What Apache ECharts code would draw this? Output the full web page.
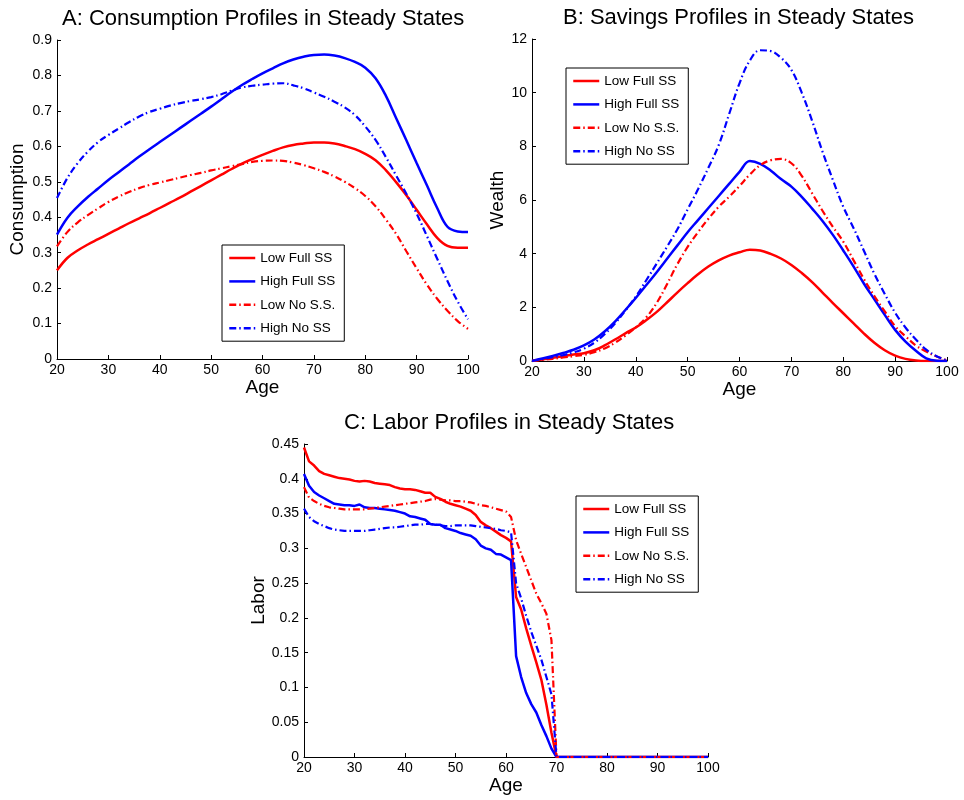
<!DOCTYPE html>
<html>
<head>
<meta charset="utf-8">
<script src="https://cdn.jsdelivr.net/npm/echarts@6/dist/echarts.min.js"></script>
<style>
html, body { margin: 0; padding: 0; background: #fff; }
#el { width: 964px; height: 800px; }
</style>
</head>
<body>
<div id="el"></div>
<script>
// series names / legend
const names = ['Low Full SS', 'High Full SS', 'Low No S.S.', 'High No SS']

// ages for panels A and B (every 2 years)
const ages = [20, 22, 24, 26, 28, 30, 32, 34, 36, 38, 40, 42, 44, 46, 48, 50, 52, 54, 56, 58, 60,
  62, 64, 66, 68, 70, 72, 74, 76, 78, 80, 82, 84, 86, 88, 90, 92, 94, 96, 98, 100]

// A: consumption
const consLowFull = [0.250, 0.285, 0.306, 0.323, 0.338, 0.353, 0.368, 0.383, 0.397, 0.411, 0.426, 0.441, 0.456, 0.472, 0.488, 0.504, 0.520, 0.536, 0.551, 0.564, 0.576,
  0.587, 0.597, 0.604, 0.608, 0.611, 0.611, 0.608, 0.601, 0.592, 0.579, 0.561, 0.533, 0.499, 0.462, 0.421, 0.380, 0.342, 0.319, 0.314, 0.314]
const consHighFull = [0.351, 0.398, 0.430, 0.457, 0.481, 0.505, 0.527, 0.549, 0.571, 0.592, 0.612, 0.632, 0.652, 0.672, 0.692, 0.712, 0.733, 0.754, 0.773, 0.790, 0.806,
  0.820, 0.834, 0.845, 0.853, 0.858, 0.859, 0.856, 0.849, 0.838, 0.822, 0.792, 0.743, 0.680, 0.617, 0.553, 0.490, 0.426, 0.373, 0.360, 0.358]
const consLowNo = [0.318, 0.358, 0.385, 0.406, 0.425, 0.443, 0.458, 0.471, 0.482, 0.491, 0.498, 0.505, 0.512, 0.519, 0.525, 0.532, 0.538, 0.544, 0.550, 0.556, 0.559,
  0.560, 0.559, 0.554, 0.547, 0.538, 0.528, 0.515, 0.500, 0.482, 0.460, 0.431, 0.394, 0.353, 0.304, 0.256, 0.210, 0.170, 0.136, 0.107, 0.085]
const consHighNo = [0.454, 0.510, 0.552, 0.585, 0.612, 0.632, 0.650, 0.668, 0.684, 0.697, 0.706, 0.715, 0.722, 0.728, 0.733, 0.739, 0.747, 0.757, 0.766, 0.771, 0.774,
  0.777, 0.778, 0.772, 0.764, 0.752, 0.740, 0.726, 0.710, 0.688, 0.656, 0.618, 0.570, 0.518, 0.466, 0.410, 0.347, 0.283, 0.220, 0.162, 0.112]

// B: wealth
const wealthLowFull = [0, 0.06, 0.12, 0.18, 0.24, 0.29, 0.40, 0.58, 0.80, 1.03, 1.25, 1.52, 1.82, 2.18, 2.55, 2.90, 3.23, 3.52, 3.75, 3.93, 4.05,
  4.15, 4.12, 3.99, 3.82, 3.58, 3.28, 2.94, 2.55, 2.16, 1.78, 1.40, 1.02, 0.68, 0.40, 0.20, 0.08, 0.02, 0, 0, 0]
const wealthHighFull = [0, 0.09, 0.19, 0.30, 0.42, 0.58, 0.80, 1.10, 1.47, 1.90, 2.35, 2.82, 3.30, 3.80, 4.30, 4.80, 5.25, 5.70, 6.15, 6.60, 7.05,
  7.45, 7.35, 7.10, 6.78, 6.50, 6.12, 5.68, 5.22, 4.70, 4.12, 3.52, 2.88, 2.30, 1.72, 1.16, 0.72, 0.38, 0.10, 0.01, 0]
const wealthLowNo = [0, 0.04, 0.08, 0.13, 0.18, 0.23, 0.33, 0.47, 0.68, 0.95, 1.25, 1.62, 2.15, 2.85, 3.60, 4.25, 4.80, 5.30, 5.75, 6.12, 6.52,
  6.95, 7.30, 7.48, 7.53, 7.37, 6.90, 6.25, 5.60, 5.00, 4.45, 3.75, 3.05, 2.42, 1.85, 1.30, 0.92, 0.58, 0.35, 0.17, 0.03]
const wealthHighNo = [0, 0.07, 0.14, 0.22, 0.32, 0.46, 0.68, 1.00, 1.40, 1.88, 2.40, 3.00, 3.62, 4.25, 4.90, 5.65, 6.40, 7.20, 8.05, 9.20, 10.35,
  11.20, 11.58, 11.55, 11.30, 10.85, 10.00, 8.95, 7.80, 6.75, 5.75, 4.95, 4.10, 3.25, 2.50, 1.80, 1.25, 0.80, 0.42, 0.18, 0.02]

// C: labor, yearly up to 70, zero afterwards
const agesC = [20, 21, 22, 23, 24, 25, 26, 27, 28, 29, 30, 31, 32, 33, 34, 35, 36, 37, 38, 39,
  40, 41, 42, 43, 44, 45, 46, 47, 48, 49, 50, 51, 52, 53, 54, 55, 56, 57, 58, 59,
  60, 61, 62, 63, 64, 65, 66, 67, 68, 69, 70, 100]
const laborLowFull = [0.445, 0.425, 0.419, 0.411, 0.407, 0.405, 0.403, 0.401, 0.400, 0.399,
  0.397, 0.396, 0.397, 0.396, 0.394, 0.393, 0.392, 0.391, 0.388, 0.386,
  0.385, 0.385, 0.384, 0.382, 0.380, 0.380, 0.374, 0.371, 0.367, 0.364,
  0.362, 0.360, 0.357, 0.354, 0.348, 0.338, 0.333, 0.329, 0.324, 0.319,
  0.315, 0.310, 0.230, 0.212, 0.185, 0.160, 0.136, 0.111, 0.075, 0.035, 0, 0]
const laborHighFull = [0.407, 0.390, 0.381, 0.376, 0.372, 0.368, 0.364, 0.363, 0.362, 0.362,
  0.361, 0.363, 0.359, 0.358, 0.358, 0.357, 0.356, 0.355, 0.354, 0.352,
  0.350, 0.346, 0.345, 0.343, 0.341, 0.335, 0.334, 0.334, 0.329, 0.327,
  0.325, 0.322, 0.320, 0.318, 0.313, 0.304, 0.300, 0.298, 0.292, 0.291,
  0.287, 0.283, 0.145, 0.115, 0.092, 0.076, 0.064, 0.046, 0.030, 0.012, 0, 0]
const laborLowNo = [0.388, 0.373, 0.368, 0.364, 0.361, 0.359, 0.358, 0.357, 0.356, 0.356,
  0.356, 0.356, 0.356, 0.357, 0.358, 0.359, 0.360, 0.361, 0.362, 0.363,
  0.364, 0.365, 0.366, 0.367, 0.368, 0.370, 0.371, 0.370, 0.369, 0.369,
  0.368, 0.368, 0.367, 0.366, 0.364, 0.362, 0.361, 0.359, 0.357, 0.355,
  0.353, 0.345, 0.312, 0.292, 0.273, 0.254, 0.235, 0.221, 0.206, 0.168, 0, 0]
const laborHighNo = [0.357, 0.345, 0.339, 0.335, 0.332, 0.329, 0.327, 0.326, 0.325, 0.325,
  0.325, 0.325, 0.325, 0.326, 0.327, 0.328, 0.329, 0.330, 0.330, 0.331,
  0.332, 0.333, 0.334, 0.334, 0.335, 0.335, 0.334, 0.333, 0.332, 0.332,
  0.333, 0.333, 0.333, 0.333, 0.332, 0.331, 0.330, 0.329, 0.328, 0.326,
  0.325, 0.323, 0.250, 0.228, 0.203, 0.180, 0.160, 0.140, 0.115, 0.090, 0, 0]

const FONT = '"Liberation Sans", Arial, Helvetica, sans-serif'
const RED = '#ff0000'
const BLUE = '#0000ff'
const DASHDOT = [7, 3, 1.5, 3]

// zip x and y into [x, y] pairs
let pairs = (xs, ys) => xs.map((x, i) => [x, ys[i]])

let xAxisOf = (idx) => ({
  type: 'value', gridIndex: idx, min: 20, max: 100, interval: 10,
  name: 'Age', nameLocation: 'middle', nameGap: 18,
  nameTextStyle: { color: '#000', fontSize: 19, fontFamily: FONT },
  axisLine: { lineStyle: { color: '#000', width: 1 } },
  axisTick: { inside: true, length: 4, lineStyle: { color: '#000' } },
  axisLabel: { color: '#000', fontSize: 14, fontFamily: FONT, margin: 4 },
  splitLine: { show: false }
})

let yAxisOf = (idx, name, max, interval, gap) => ({
  type: 'value', gridIndex: idx, min: 0, max: max, interval: interval,
  name: name, nameLocation: 'middle', nameGap: gap,
  nameTextStyle: { color: '#000', fontSize: 19, fontFamily: FONT },
  axisLine: { show: true, lineStyle: { color: '#000', width: 1 } },
  axisTick: { show: true, inside: true, length: 4, lineStyle: { color: '#000' } },
  axisLabel: { color: '#000', fontSize: 14, fontFamily: FONT, margin: 5 },
  splitLine: { show: false }
})

let legendAt = (left, top) => ({
  data: names, orient: 'vertical', left: left, top: top,
  selectedMode: false,
  backgroundColor: '#fff', borderColor: '#000', borderWidth: 1,
  padding: [6, 9, 6, 6],
  itemWidth: 26, itemHeight: 10, itemGap: 9.4,
  itemStyle: { opacity: 0 },  // hide the marker, keep only the line sample
  lineStyle: { width: 2.5 },
  textStyle: { color: '#000', fontSize: 13.5, fontFamily: FONT, lineHeight: 14 }
})

let lineOf = (name, idx, xs, ys, color, dash, smooth) => ({
  name: name, type: 'line', xAxisIndex: idx, yAxisIndex: idx,
  data: pairs(xs, ys), symbol: 'none', showSymbol: false, smooth: smooth,
  lineStyle: { color: color, width: dash ? 2.2 : 2.5, type: dash ? DASHDOT : 'solid' },
  itemStyle: { color: color },
  emphasis: { disabled: true }
})

let chart = () => {
  let mychart = echarts.init(document.getElementById('el'))
  let option = {
    animation: false,
    backgroundColor: '#fff',
    title: [
      { text: 'A: Consumption Profiles in Steady States', left: 62, top: 8, padding: 0,
        textStyle: { color: '#000', fontSize: 22, fontWeight: 'normal', fontFamily: FONT } },
      { text: 'B: Savings Profiles in Steady States', left: 563, top: 7, padding: 0,
        textStyle: { color: '#000', fontSize: 22, fontWeight: 'normal', fontFamily: FONT } },
      { text: 'C: Labor Profiles in Steady States', left: 344, top: 412, padding: 0,
        textStyle: { color: '#000', fontSize: 22, fontWeight: 'normal', fontFamily: FONT } }
    ],
    grid: [
      { left: 57, top: 40, width: 411, height: 319 },
      { left: 532, top: 39, width: 415, height: 322 },
      { left: 304, top: 444, width: 404, height: 313 }
    ],
    xAxis: [xAxisOf(0), xAxisOf(1), xAxisOf(2)],
    yAxis: [
      yAxisOf(0, 'Consumption', 0.9, 0.1, 30),
      yAxisOf(1, 'Wealth', 12, 2, 23),
      yAxisOf(2, 'Labor', 0.45, 0.05, 34)
    ],
    legend: [legendAt(222, 245), legendAt(566, 68), legendAt(576, 496)],
    series: [
      lineOf(names[0], 0, ages, consLowFull, RED, false, 0.4),
      lineOf(names[1], 0, ages, consHighFull, BLUE, false, 0.4),
      lineOf(names[2], 0, ages, consLowNo, RED, true, 0.4),
      lineOf(names[3], 0, ages, consHighNo, BLUE, true, 0.4),
      lineOf(names[0], 1, ages, wealthLowFull, RED, false, 0.4),
      lineOf(names[1], 1, ages, wealthHighFull, BLUE, false, 0.4),
      lineOf(names[2], 1, ages, wealthLowNo, RED, true, 0.4),
      lineOf(names[3], 1, ages, wealthHighNo, BLUE, true, 0.4),
      lineOf(names[0], 2, agesC, laborLowFull, RED, false, false),
      lineOf(names[1], 2, agesC, laborHighFull, BLUE, false, false),
      lineOf(names[2], 2, agesC, laborLowNo, RED, true, false),
      lineOf(names[3], 2, agesC, laborHighNo, BLUE, true, false)
    ]
  }
  option && mychart.setOption(option)
}

chart()
</script>
</body>
</html>
